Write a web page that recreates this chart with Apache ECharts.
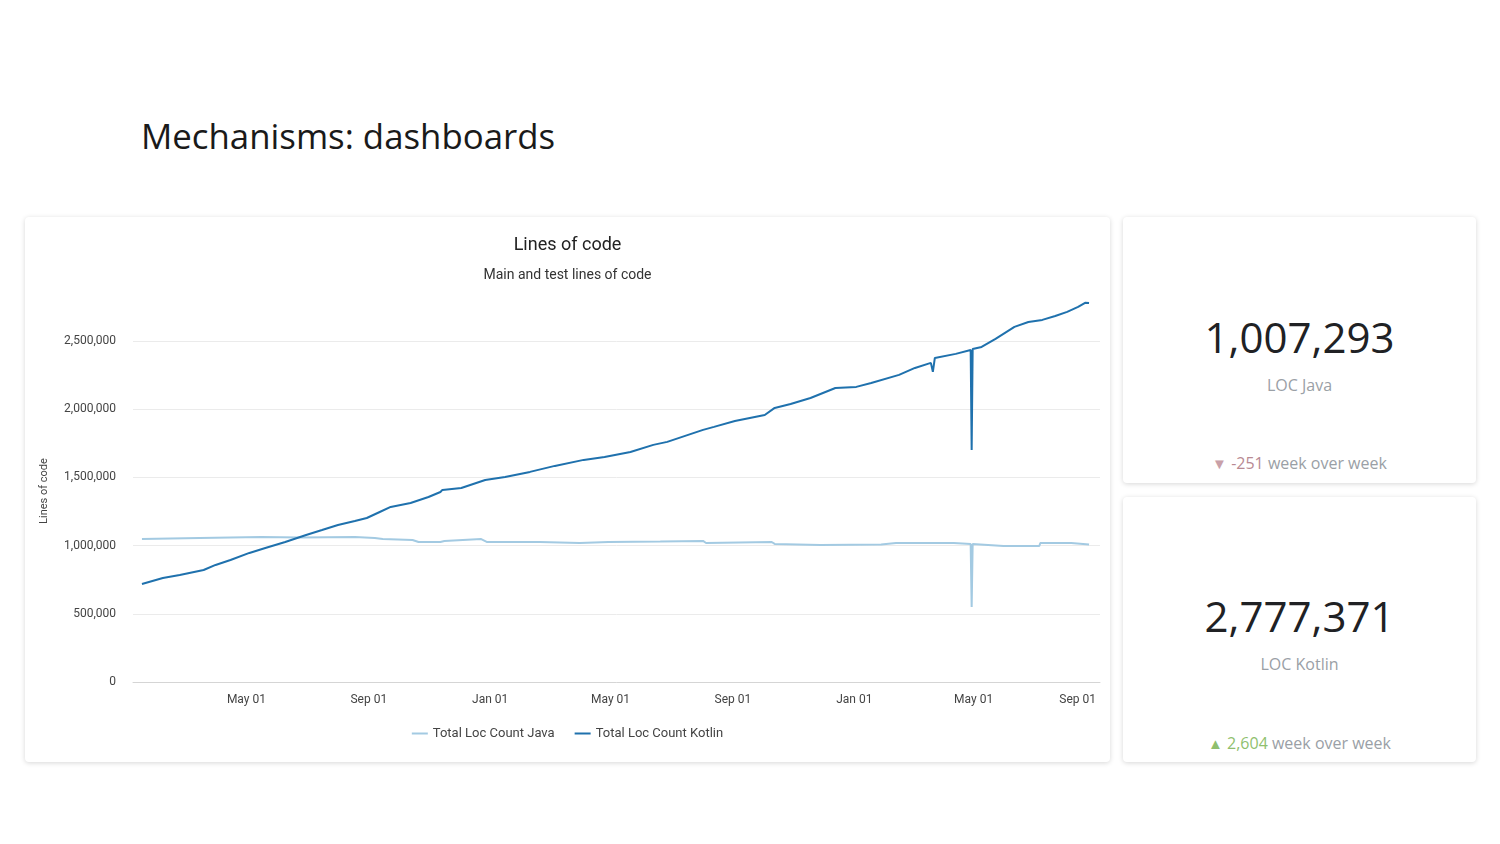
<!DOCTYPE html>
<html>
<head>
<meta charset="utf-8">
<script src="https://cdn.jsdelivr.net/npm/echarts@6/dist/echarts.min.js"></script>
<style>
  body { margin: 0; width: 1500px; height: 844px; background: #fff; position: relative; font-family: "Open Sans", sans-serif; overflow: hidden; }
  .title { position: absolute; left: 141px; top: 112px; font-size: 34.8px; color: #1a1a1a; }
  .card { position: absolute; background: #fff; border-radius: 4px; box-shadow: 0 1px 5px rgba(0,0,0,0.16); }
  .kpi { position: absolute; left: 0; width: 100%; text-align: center; }
  .num { font-size: 42px; color: #202124; line-height: 50px; }
  .lbl { font-size: 16px; color: #9aa0a6; line-height: 20px; }
  .wow { font-size: 16px; color: #9aa0a6; line-height: 20px; }
</style>
</head>
<body>
<div class="title">Mechanisms: dashboards</div>
<div class="card" style="left:25px;top:217px;width:1085px;height:545px;">
  <div id="main" style="width:1085px;height:545px;"></div>
</div>
<div class="card" style="left:1123px;top:217px;width:353px;height:266px;">
  <div class="kpi num" style="top:95px;">1,007,293</div>
  <div class="kpi lbl" style="top:158px;">LOC Java</div>
  <div class="kpi wow" style="top:236px;"><span style="color:#c9a0a8;font-size:15px;">&#9660;</span> <span style="color:#b88a93;">-251</span> week over week</div>
</div>
<div class="card" style="left:1123px;top:497px;width:353px;height:265px;">
  <div class="kpi num" style="top:94px;">2,777,371</div>
  <div class="kpi lbl" style="top:157px;">LOC Kotlin</div>
  <div class="kpi wow" style="top:236px;"><span style="color:#8fbf6e;font-size:15px;">&#9650;</span> <span style="color:#8fbf6e;">2,604</span> week over week</div>
</div>
<script>
var seriesNames = ['Total Loc Count Java', 'Total Loc Count Kotlin'];

var javaDates = ['2019-01-16','2019-03-15','2019-05-16','2019-06-24','2019-08-18','2019-09-07','2019-09-15','2019-10-15','2019-10-21','2019-11-12','2019-11-14','2019-11-16','2019-12-23','2019-12-29','2020-02-20','2020-03-31','2020-04-29','2020-05-01','2020-06-20','2020-08-02','2020-08-05','2020-10-10','2020-10-13','2020-11-28','2021-01-28','2021-02-12','2021-04-11','2021-04-28','2021-04-29','2021-04-30','2021-05-31','2021-07-06','2021-07-07','2021-08-07','2021-08-25'];
var javaValues = [1048000,1056000,1063000,1060000,1063000,1056000,1048000,1041000,1026000,1026000,1012000,1034000,1048000,1026000,1026000,1019000,1026000,1034000,1030000,1034000,1019000,1026000,1012000,1004000,1008000,1019000,1019000,1012000,550000,1012000,997000,997000,1019000,1019000,1007293];

var kotlinDates = ['2019-01-16','2019-02-06','2019-02-23','2019-03-19','2019-03-31','2019-04-15','2019-05-04','2019-05-20','2019-06-09','2019-06-30','2019-07-16','2019-08-01','2019-08-18','2019-08-30','2019-09-12','2019-09-23','2019-10-13','2019-10-31','2019-11-12','2019-11-14','2019-12-03','2019-12-27','2020-01-16','2020-02-10','2020-03-06','2020-04-04','2020-04-25','2020-05-21','2020-06-13','2020-06-27','2020-07-15','2020-08-02','2020-08-13','2020-09-03','2020-10-03','2020-10-13','2020-10-29','2020-11-18','2020-12-13','2021-01-03','2021-01-18','2021-02-15','2021-03-03','2021-03-19','2021-03-21','2021-03-23','2021-04-13','2021-04-28','2021-04-29','2021-04-30','2021-05-09','2021-05-23','2021-06-11','2021-06-25','2021-07-09','2021-07-22','2021-08-03','2021-08-14','2021-08-21','2021-08-25'];
var kotlinValues = [718000,762000,784000,821000,858000,894000,946000,982000,1026000,1078000,1114000,1151000,1180000,1202000,1246000,1283000,1312000,1356000,1393000,1408000,1422000,1481000,1503000,1540000,1584000,1628000,1650000,1686000,1738000,1760000,1804000,1848000,1870000,1913000,1957000,2009000,2038000,2082000,2155000,2163000,2192000,2251000,2302000,2339000,2273000,2375000,2405000,2434000,1701000,2441000,2456000,2515000,2603000,2639000,2654000,2683000,2713000,2749000,2779000,2777371];

var xTickDates = ['2019-05-01','2019-09-01','2020-01-01','2020-05-01','2020-09-01','2021-01-01','2021-05-01','2021-09-01'];
var monthNames = ['Jan','Feb','Mar','Apr','May','Jun','Jul','Aug','Sep','Oct','Nov','Dec'];

function ts(s) { return echarts.number.parseDate(s).getTime(); }
function pairs(dates, values) {
    return dates.map(function (d, i) { return [ts(d), values[i]]; });
}

var dom = document.getElementById('main');
var myChart = echarts.init(dom);
var option = {
    animation: false,
    textStyle: { fontFamily: 'Roboto' },
    title: {
        text: 'Lines of code',
        subtext: 'Main and test lines of code',
        left: 'center',
        top: 14,
        itemGap: 14,
        textStyle: { fontSize: 18, fontWeight: 'normal', color: '#222', fontFamily: 'Roboto' },
        subtextStyle: { fontSize: 14, color: '#333', fontFamily: 'Roboto' }
    },
    legend: {
        top: 505,
        left: 'center',
        icon: 'rect',
        itemWidth: 16,
        itemHeight: 2,
        itemGap: 20,
        data: seriesNames,
        textStyle: { fontSize: 13, color: '#444' }
    },
    grid: { left: 108, right: 10, top: 83, bottom: 80 },
    xAxis: {
        // dates as timestamps on a value axis, ticks at the 1st of every 4th month
        type: 'value',
        min: ts('2019-01-07'),
        max: ts('2021-09-05'),
        axisLine: { lineStyle: { color: '#d5d5d5' } },
        axisTick: { show: false },
        splitLine: { show: false },
        axisLabel: {
            customValues: xTickDates.map(ts),
            margin: 12,
            fontSize: 12,
            color: '#444',
            alignMaxLabel: 'right',
            formatter: function (v) {
                var d = new Date(v);
                return monthNames[d.getMonth()] + ' 01';
            }
        }
    },
    yAxis: {
        type: 'value',
        min: 0,
        max: 2800000,
        interval: 500000,
        name: 'Lines of code',
        nameLocation: 'middle',
        nameGap: 83,
        nameTextStyle: { fontSize: 11, color: '#444' },
        axisLine: { show: false },
        axisTick: { show: false },
        axisLabel: {
            margin: 17,
            fontSize: 12,
            color: '#444',
            showMaxLabel: false,
            formatter: function (v) { return v.toLocaleString('en-US'); }
        },
        splitLine: { showMaxLine: false, lineStyle: { color: '#ebebeb' } }
    },
    series: [
        {
            name: seriesNames[0],
            type: 'line',
            showSymbol: false,
            color: '#a3cae2',
            lineStyle: { width: 2 },
            data: pairs(javaDates, javaValues)
        },
        {
            name: seriesNames[1],
            type: 'line',
            showSymbol: false,
            color: '#1f71ad',
            lineStyle: { width: 2 },
            data: pairs(kotlinDates, kotlinValues)
        }
    ]
};
myChart.setOption(option, true);
</script>
</body>
</html>
